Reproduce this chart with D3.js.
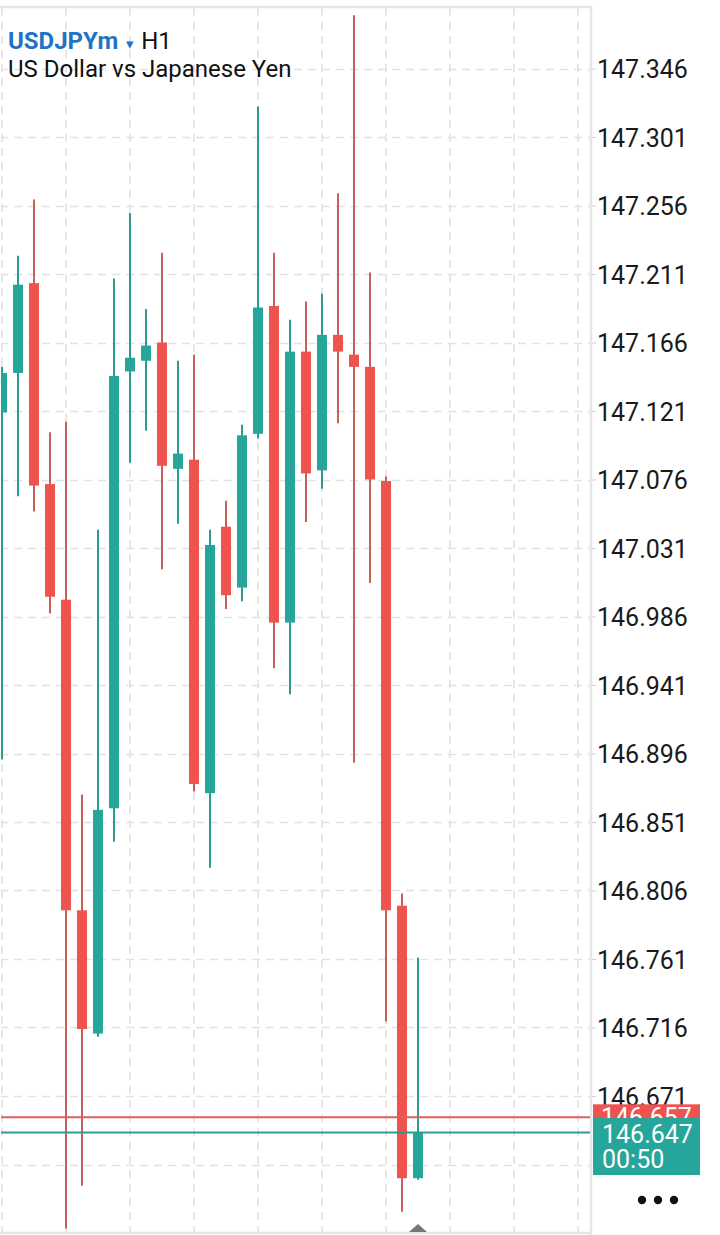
<!DOCTYPE html>
<html>
<head>
<meta charset="utf-8">
<script src="https://cdn.jsdelivr.net/npm/d3@7"></script>
<style>
  html, body { margin: 0; padding: 0; background: #ffffff; }
  svg { display: block; font-family: Roboto, "Noto Sans", sans-serif; }
</style>
</head>
<body>
<svg id="chart" width="720" height="1235"></svg>
<script>
// ---- data ----
const symbol = "USDJPYm";
const timeframe = "H1";
const description = "US Dollar vs Japanese Yen";
const candleIndex = [0,1,2,3,4,5,6,7,8,9,10,11,12,13,14,15,16,17,18,19,20,21,22,23,24,25,26];
const openVals  = [147.120,147.146,147.205,147.073,146.997,146.793,146.712,146.860,147.147,147.154,147.166,147.083,147.089,146.870,147.045,147.005,147.106,147.190,146.982,147.160,147.082,147.171,147.158,147.150,147.075,146.796,146.617];
const highVals  = [147.150,147.223,147.260,147.107,147.114,146.869,147.043,147.208,147.251,147.188,147.225,147.154,147.158,147.043,147.062,147.112,147.321,147.225,147.181,147.193,147.198,147.264,147.381,147.212,147.078,146.804,146.762];
const lowVals   = [146.892,147.065,147.055,146.988,146.584,146.612,146.710,146.838,147.087,147.108,147.017,147.047,146.871,146.821,146.991,146.996,147.103,146.952,146.935,147.048,147.070,147.113,146.890,147.008,146.720,146.595,146.616];
const closeVals = [147.146,147.204,147.072,146.999,146.793,146.715,146.859,147.144,147.156,147.164,147.085,147.093,146.876,147.033,147.000,147.105,147.189,146.982,147.160,147.080,147.171,147.160,147.150,147.076,146.793,146.617,146.647];
const gridValues = [147.346,147.301,147.256,147.211,147.166,147.121,147.076,147.031,146.986,146.941,146.896,146.851,146.806,146.761,146.716,146.671,146.626];
const tickValues = [147.346,147.301,147.256,147.211,147.166,147.121,147.076,147.031,146.986,146.941,146.896,146.851,146.806,146.761,146.716,146.671];
const tickLabels = ["147.346","147.301","147.256","147.211","147.166","147.121","147.076","147.031","146.986","146.941","146.896","146.851","146.806","146.761","146.716","146.671"];
const askPrice = 146.657;
const bidPrice = 146.647;
const askLabel = "146.657";
const bidLabel = "146.647";
const timerLabel = "00:50";
const gridSlots = [0,4,8,12,16,20,24,28,32,36];

const candles = candleIndex.map((i, k) => ({i, o: openVals[k], h: highVals[k], l: lowVals[k], c: closeVals[k]}));

// ---- layout ----
const UP = "#26a69a", DOWN = "#ef5350";
const UP_WICK = "#2a9d90", DOWN_WICK = "#c8605a";
const plotL = 0, plotR = 590, plotT = 8, plotB = 1232;

const svg = d3.select("#chart");
const x = d3.scaleLinear().domain([0, 36]).range([2, 578]);
const y = d3.scaleLinear().domain([146.626, 147.346]).range([1164.5, 68.5]);

svg.append("defs").append("clipPath").attr("id", "plotclip")
  .append("rect").attr("x", 1).attr("y", plotT).attr("width", plotR - 1).attr("height", plotB - plotT);

// grid
const grid = svg.append("g").attr("clip-path", "url(#plotclip)");
grid.selectAll("line.h").data(gridValues).join("line")
  .attr("x1", plotL).attr("x2", plotR)
  .attr("y1", d => Math.round(y(d)) + 0.5).attr("y2", d => Math.round(y(d)) + 0.5)
  .attr("stroke", "#e2e2e2").attr("stroke-width", 1.6).attr("stroke-dasharray", "8,6");
grid.selectAll("line.v").data(gridSlots).join("line")
  .attr("x1", d => x(d)).attr("x2", d => x(d))
  .attr("y1", plotT).attr("y2", plotB)
  .attr("stroke", "#e2e2e2").attr("stroke-width", 1.6).attr("stroke-dasharray", "8,6");

// frame
svg.append("line").attr("x1", 0).attr("x2", plotR).attr("y1", plotT - 1).attr("y2", plotT - 1)
  .attr("stroke", "#e6e6e6").attr("stroke-width", 2.5);
svg.append("line").attr("x1", 0).attr("x2", plotR).attr("y1", plotB + 1).attr("y2", plotB + 1)
  .attr("stroke", "#e6e6e6").attr("stroke-width", 2.5);
svg.append("line").attr("x1", plotR + 1).attr("x2", plotR + 1).attr("y1", plotT - 2).attr("y2", 1235)
  .attr("stroke", "#e6e6e6").attr("stroke-width", 2.5);

// candles
const cg = svg.append("g").attr("clip-path", "url(#plotclip)");
cg.selectAll("line.wick").data(candles).join("line")
  .attr("x1", d => x(d.i)).attr("x2", d => x(d.i))
  .attr("y1", d => y(d.h)).attr("y2", d => y(d.l))
  .attr("stroke", d => d.c >= d.o ? UP_WICK : DOWN_WICK).attr("stroke-width", 2);
cg.selectAll("rect.body").data(candles).join("rect")
  .attr("x", d => x(d.i) - 5).attr("width", 10)
  .attr("y", d => y(Math.max(d.o, d.c)))
  .attr("height", d => Math.max(2, Math.abs(y(d.o) - y(d.c))))
  .attr("fill", d => d.c >= d.o ? UP : DOWN);

// price lines
cg.append("line").attr("x1", plotL).attr("x2", plotR).attr("y1", y(askPrice)).attr("y2", y(askPrice))
  .attr("stroke", "#d8625c").attr("stroke-width", 2);
cg.append("line").attr("x1", plotL).attr("x2", plotR).attr("y1", y(bidPrice)).attr("y2", y(bidPrice))
  .attr("stroke", "#2a9d90").attr("stroke-width", 2);

// y axis
const axis = d3.axisRight(y).tickValues(tickValues).tickFormat((d, k) => tickLabels[k]).tickSize(4).tickPadding(1);
const ag = svg.append("g").attr("transform", `translate(${plotR + 2},0)`).call(axis);
ag.select(".domain").remove();
ag.selectAll(".tick line").attr("stroke", "#d0d0d0").attr("stroke-width", 1);
ag.selectAll(".tick text").attr("fill", "#1a1a1a").style("font-size", "25px")
  .style("font-family", "Roboto, sans-serif").attr("dy", "0.36em");

// price tags
const tagX = 593, tagW = 107;
svg.append("rect").attr("x", tagX).attr("y", y(askPrice) - 13).attr("width", tagW).attr("height", 26).attr("fill", DOWN);
svg.append("text").attr("x", tagX + 8).attr("y", y(askPrice) + 9).text(askLabel)
  .attr("fill", "#ffffff").style("font-size", "25px");
svg.append("rect").attr("x", tagX).attr("y", y(bidPrice) - 14.5).attr("width", tagW).attr("height", 57).attr("fill", UP);
svg.append("text").attr("x", tagX + 9).attr("y", y(bidPrice) + 10).text(bidLabel)
  .attr("fill", "#ffffff").style("font-size", "25px");
svg.append("text").attr("x", tagX + 9).attr("y", y(bidPrice) + 35).text(timerLabel)
  .attr("fill", "#ffffff").style("font-size", "25px");

// menu dots
svg.selectAll("circle.dot").data([642, 658, 674]).join("circle")
  .attr("cx", d => d).attr("cy", 1200).attr("r", 4.2).attr("fill", "#111");

// current-bar marker
const lastX = x(candleIndex[candleIndex.length - 1]);
svg.append("path").attr("d", `M${lastX - 9},${plotB} L${lastX},${plotB - 8} L${lastX + 9},${plotB} Z`).attr("fill", "#777");

// title
const t1 = svg.append("text").attr("x", 8).attr("y", 49).style("font-size", "24px");
t1.append("tspan").text(symbol).attr("fill", "#1f73c6").style("font-weight", "bold");
t1.append("tspan").text("▾").attr("dx", 8).attr("fill", "#1f73c6").style("font-size", "15px");
t1.append("tspan").text(timeframe).attr("dx", 7).attr("fill", "#111");
svg.append("text").attr("x", 8).attr("y", 77).text(description).attr("fill", "#111").style("font-size", "24px");
</script>
</body>
</html>
